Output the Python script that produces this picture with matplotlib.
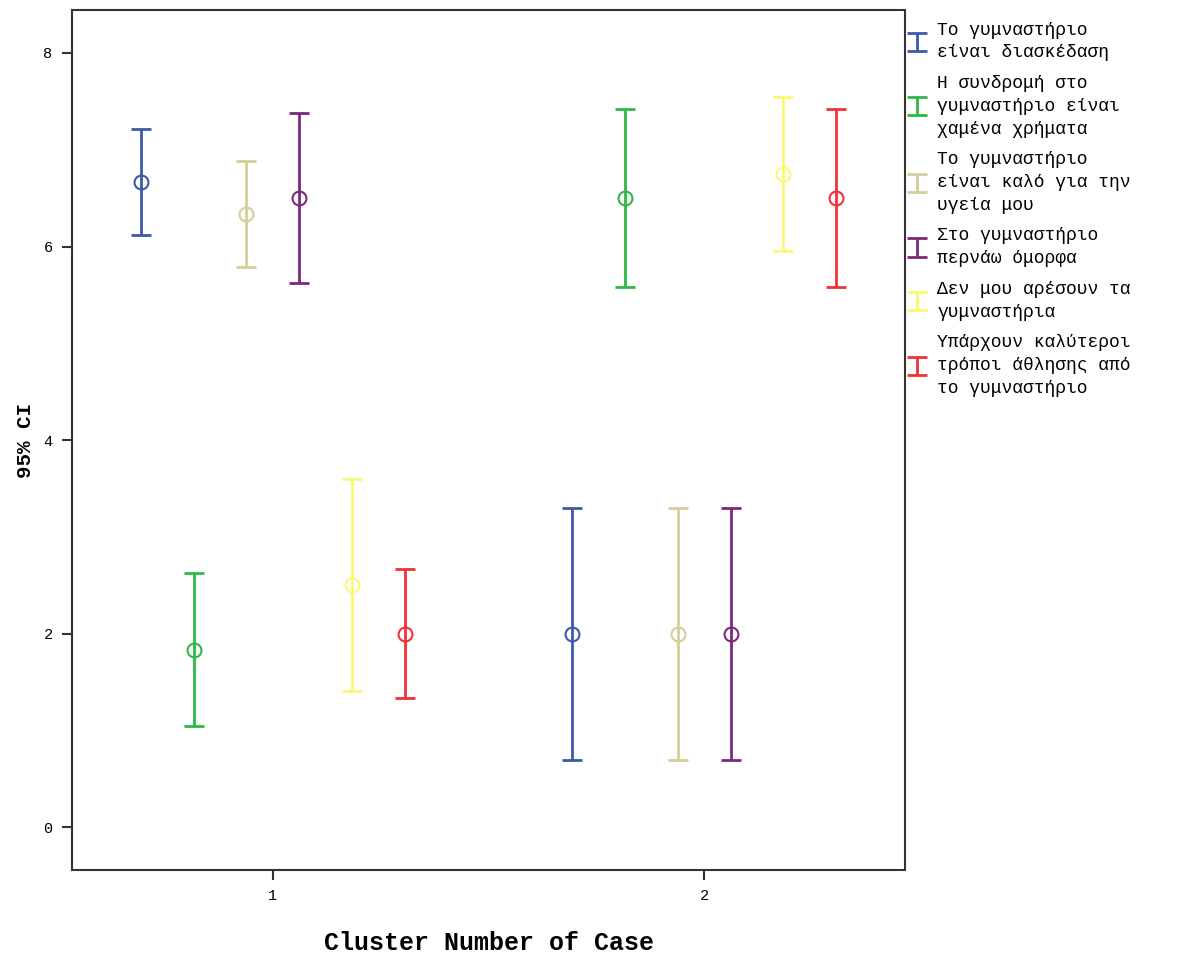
import matplotlib.pyplot as plt
import numpy as np

# ==============================
# data
# ==============================

clusters = [1, 2]
series = [
    'Το γυμναστήριο\nείναι διασκέδαση',
    'Η συνδρομή στο\nγυμναστήριο είναι\nχαμένα χρήματα',
    'Το γυμναστήριο\nείναι καλό για την\nυγεία μου',
    'Στο γυμναστήριο\nπερνάω όμορφα',
    'Δεν μου αρέσουν τα\nγυμναστήρια',
    'Υπάρχουν καλύτεροι\nτρόποι άθλησης από\nτο γυμναστήριο',
]
colors = ['#3E58AC', '#2EB848', '#D3CE97', '#7C287D', '#FBF873', '#EF3338']

# mean, lower, upper per series, one value per cluster
means = [
    [6.67, 2.00],
    [1.83, 6.50],
    [6.34, 2.00],
    [6.50, 2.00],
    [2.50, 6.75],
    [2.00, 6.50],
]
lower = [
    [6.12, 0.69],
    [1.04, 5.58],
    [5.79, 0.69],
    [5.62, 0.69],
    [1.41, 5.95],
    [1.33, 5.58],
]
upper = [
    [7.21, 3.30],
    [2.63, 7.42],
    [6.88, 3.30],
    [7.38, 3.30],
    [3.60, 7.55],
    [2.67, 7.42],
]

offsets = [-0.306, -0.183, -0.061, 0.061, 0.183, 0.306]

# ==============================
# plot
# ==============================

mono = 'Liberation Mono'
fig = plt.figure(figsize=(11.93, 9.55), dpi=100)
ax = fig.add_axes([0.0604, 0.089, 0.6982, 0.9005])

handles = []
for i, name in enumerate(series):
    x = np.array(clusters) + offsets[i]
    m = np.array(means[i])
    lo = m - np.array(lower[i])
    hi = np.array(upper[i]) - m
    eb = ax.errorbar(x, m, yerr=[lo, hi], fmt='none', ecolor=colors[i],
                     elinewidth=2, capsize=7, capthick=2, label=name)
    ax.plot(x, m, 'o', ms=10, mfc='none', mec=colors[i], mew=1.5)
    handles.append(eb)

ax.set_xlim(0.535, 2.465)
ax.set_ylim(-0.444, 8.444)
ax.set_xticks(clusters)
ax.set_yticks([0, 2, 4, 6, 8])
ax.tick_params(direction='out', length=7, width=1.5, color='#333333',
               labelsize=11, pad=7)
for lab in ax.get_xticklabels() + ax.get_yticklabels():
    lab.set_family(mono)
for sp in ax.spines.values():
    sp.set_linewidth(1.5)
    sp.set_color('#333333')

ax.set_xlabel('Cluster Number of Case', fontfamily=mono, fontweight='bold',
              fontsize=18, labelpad=20)
ax.set_ylabel('95% CI', fontfamily=mono, fontweight='bold', fontsize=15,
              labelpad=6)

leg = fig.legend(handles=handles, loc='upper left',
                 bbox_to_anchor=(0.757, 0.985), frameon=False,
                 prop={'family': mono, 'size': 13},
                 handlelength=0.7, handletextpad=0.8, labelspacing=0.75,
                 borderaxespad=0)
for t in leg.get_texts():
    t.set_linespacing(1.45)

fig.savefig('out.png', dpi=100)
